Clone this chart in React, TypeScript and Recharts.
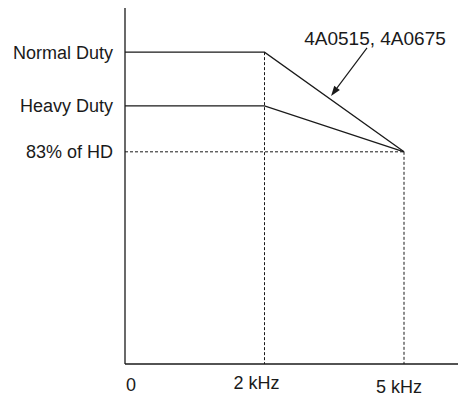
import React from "react";
import { LineChart, Line, XAxis, YAxis, ReferenceLine, ReferenceDot, Label } from "recharts";

// x positions are schematic: 0 -> "0", 1 -> "2 kHz", 2 -> "5 kHz"
const xTicks = [0, 1, 2];
const xLabels = ["0", "2 kHz", "5 kHz"];

// output current levels, schematic units (0-100 of the axis height)
const normalDuty = [87.6, 87.6, 59.6];
const heavyDuty = [72.5, 72.5, 59.6];
const hd83 = 59.6;

const yTicks = [87.6, 72.5, 59.6];
const yLabels = ["Normal Duty", "Heavy Duty", "83% of HD"];

const noteText = "4A0515, 4A0675";
const notePos = { x: 1.792, y: 91.4 };
const arrowFrom = { x: 1.735, y: 88.8 };
const arrowTo = { x: 1.477, y: 75.3 };

const data = xTicks.map((x, i) => ({ x, nd: normalDuty[i], hd: heavyDuty[i] }));

const INK = "#1a1a1a";
const FONT = "'Liberation Sans', Arial, sans-serif";

const XTick = (p: any) => {
  const i = xTicks.indexOf(p.payload.value);
  const dx = [6, -8, -5][i] ?? 0;
  const dy = [19, 17, 21][i] ?? 0;
  return (
    <text x={p.x + dx} y={p.y + dy} textAnchor="middle" fontSize={18} fill={INK} fontFamily={FONT}>
      {xLabels[i]}
    </text>
  );
};

const YTick = (p: any) => {
  const i = yTicks.indexOf(p.payload.value);
  return (
    <text x={113} y={p.y} dy={6.5} textAnchor="end" fontSize={18} fill={INK} fontFamily={FONT}>
      {yLabels[i]}
    </text>
  );
};

const Arrow = (p: any) => {
  const { x1, y1, x2, y2 } = p;
  const ang = Math.atan2(y2 - y1, x2 - x1);
  const len = 10, half = 3.5;
  const bx = x2 - len * Math.cos(ang), by = y2 - len * Math.sin(ang);
  const px = -Math.sin(ang) * half, py = Math.cos(ang) * half;
  return (
    <g>
      <line x1={x1} y1={y1} x2={bx} y2={by} stroke={INK} strokeWidth={1.2} />
      <polygon points={`${x2},${y2} ${bx + px},${by + py} ${bx - px},${by - py}`} fill={INK} />
    </g>
  );
};

export default function App() {
  return (
    <div style={{ position: "absolute", left: 0, top: 0, background: "#fff" }}>
      <LineChart width={459} height={398} data={data} margin={{ top: 8, right: 1, bottom: 4, left: 0 }}>
        <XAxis dataKey="x" type="number" domain={[0, 2.387]} ticks={xTicks} tick={<XTick />}
          tickLine={false} axisLine={{ stroke: INK, strokeWidth: 1.3 }} height={30} interval={0} />
        <YAxis type="number" domain={[0, 100]} ticks={yTicks} tick={<YTick />} width={125}
          tickLine={false} axisLine={{ stroke: INK, strokeWidth: 1.3 }} interval={0} />
        <ReferenceLine segment={[{ x: 0, y: hd83 }, { x: 2, y: hd83 }]} stroke={INK} strokeWidth={1} strokeDasharray="3 2" />
        <ReferenceLine segment={[{ x: 1, y: normalDuty[1] }, { x: 1, y: 0 }]} stroke={INK} strokeWidth={1} strokeDasharray="3 2" />
        <ReferenceLine segment={[{ x: 2, y: hd83 }, { x: 2, y: 0 }]} stroke={INK} strokeWidth={1} strokeDasharray="3 2" />
        <Line dataKey="nd" type="linear" stroke={INK} strokeWidth={1.3} dot={false} isAnimationActive={false} />
        <Line dataKey="hd" type="linear" stroke={INK} strokeWidth={1.3} dot={false} isAnimationActive={false} />
        <ReferenceLine segment={[arrowFrom, arrowTo]} shape={<Arrow />} />
        <ReferenceDot x={notePos.x} y={notePos.y} r={0} fill="none" stroke="none">
          <Label value={noteText} position="center" fontSize={19} fill={INK} fontFamily={FONT} />
        </ReferenceDot>
      </LineChart>
    </div>
  );
}
